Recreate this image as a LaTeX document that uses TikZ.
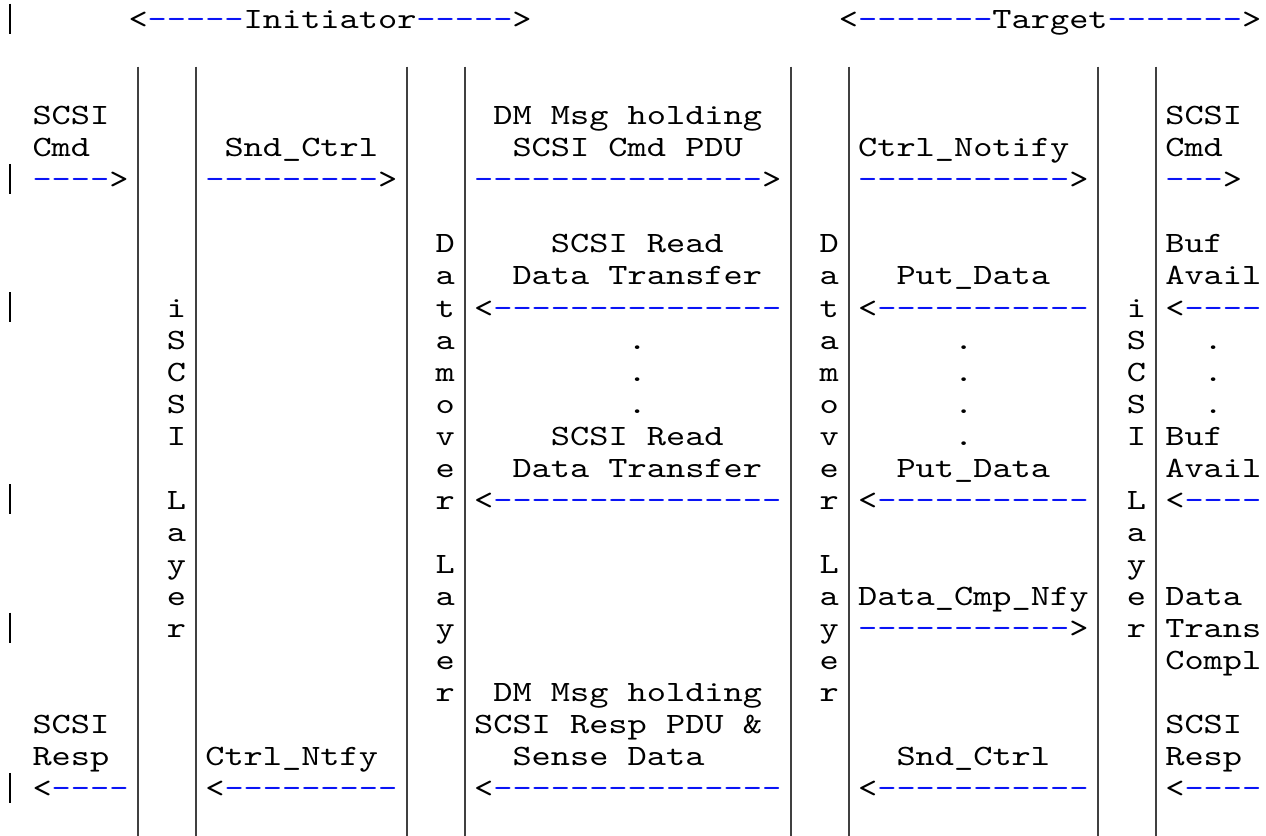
\documentclass[tikz,border=0pt]{standalone}
\usepackage{fontspec}
\setmonofont{lmmono10-regular.otf}[FakeStretch=1.241]
\usepackage{xcolor}
\definecolor{dashblue}{RGB}{10,20,245}
\newcommand{\dsh}[1]{\textcolor{dashblue}{#1}}

\begin{document}
\begin{tikzpicture}[
    x=7.2pt, y=-12.02pt,
    ascii/.style={anchor=base west, inner sep=0pt, outer sep=0pt, font=\ttfamily\fontsize{11.05pt}{12pt}\selectfont},
    layerline/.style={draw=black!75, line width=0.75pt},
    margbar/.style={draw=black, line width=1.1pt}
]
    \useasboundingbox (0.307,-0.891) rectangle (66.245,25.19);

    % margin bars and layer borders
    \foreach \r in {0,5,9,15,19,24}
        \draw[margbar] (0.828,\r-0.778) -- (0.828,\r+0.158);
    \foreach \c in {7,10,21,24,41,44,57,60}
        \draw[layerline] (\c+0.5,1.19) -- (\c+0.5,25.19);

    % headings
    \node[ascii] (initiator) at (7,0) {<\dsh{-----}Initiator\dsh{-----}>};
    \node[ascii] (target) at (44,0) {<\dsh{-------}Target\dsh{-------}>};

    % vertical layer names
    \foreach \ch [count=\k from 9] in {i,S,C,S,I,{},L,a,y,e,r} {
        \node[ascii] (iscsiI-\k) at (9,\k) {\ch};
        \node[ascii] (iscsiT-\k) at (59,\k) {\ch};
    }
    \foreach \ch [count=\k from 7] in {D,a,t,a,m,o,v,e,r,{},L,a,y,e,r} {
        \node[ascii] (dmI-\k) at (23,\k) {\ch};
        \node[ascii] (dmT-\k) at (43,\k) {\ch};
    }

    % command phase
    \node[ascii] (cmdI1) at (2,3) {SCSI};
    \node[ascii] (cmdI2) at (2,4) {Cmd};
    \node[ascii] (cmdI3) at (2,5) {\dsh{----}>};
    \node[ascii] (sndctrl1) at (12,4) {Snd\_Ctrl};
    \node[ascii] (sndctrl2) at (11,5) {\dsh{---------}>};
    \node[ascii] (dmcmd1) at (26,3) {DM Msg holding};
    \node[ascii] (dmcmd2) at (27,4) {SCSI Cmd PDU};
    \node[ascii] (dmcmd3) at (25,5) {\dsh{---------------}>};
    \node[ascii] (ctrlnot1) at (45,4) {Ctrl\_Notify};
    \node[ascii] (ctrlnot2) at (45,5) {\dsh{-----------}>};
    \node[ascii] (cmdT1) at (61,3) {SCSI};
    \node[ascii] (cmdT2) at (61,4) {Cmd};
    \node[ascii] (cmdT3) at (61,5) {\dsh{---}>};

    % data phase
    \node[ascii] (rd1a) at (29,7) {SCSI Read};
    \node[ascii] (rd1b) at (27,8) {Data Transfer};
    \node[ascii] (rd1c) at (25,9) {<\dsh{---------------}};
    \node[ascii] (put1a) at (47,8) {Put\_Data};
    \node[ascii] (put1b) at (45,9) {<\dsh{-----------}};
    \node[ascii] (buf1a) at (61,7) {Buf};
    \node[ascii] (buf1b) at (61,8) {Avail};
    \node[ascii] (buf1c) at (61,9) {<\dsh{----}};
    \foreach \r in {10,11,12} {
        \node[ascii] (rddot-\r) at (33,\r) {.};
        \node[ascii] (bufdot-\r) at (63,\r) {.};
    }
    \foreach \r in {10,11,12,13}
        \node[ascii] (putdot-\r) at (50,\r) {.};
    \node[ascii] (rd2a) at (29,13) {SCSI Read};
    \node[ascii] (rd2b) at (27,14) {Data Transfer};
    \node[ascii] (rd2c) at (25,15) {<\dsh{---------------}};
    \node[ascii] (put2a) at (47,14) {Put\_Data};
    \node[ascii] (put2b) at (45,15) {<\dsh{-----------}};
    \node[ascii] (buf2a) at (61,13) {Buf};
    \node[ascii] (buf2b) at (61,14) {Avail};
    \node[ascii] (buf2c) at (61,15) {<\dsh{----}};

    % completion
    \node[ascii] (cmpnfy1) at (45,18) {Data\_Cmp\_Nfy};
    \node[ascii] (cmpnfy2) at (45,19) {\dsh{-----------}>};
    \node[ascii] (compl1) at (61,18) {Data};
    \node[ascii] (compl2) at (61,19) {Trans};
    \node[ascii] (compl3) at (61,20) {Compl};

    % response phase
    \node[ascii] (rspI1) at (2,22) {SCSI};
    \node[ascii] (rspI2) at (2,23) {Resp};
    \node[ascii] (rspI3) at (2,24) {<\dsh{----}};
    \node[ascii] (ctrlntfy1) at (11,23) {Ctrl\_Ntfy};
    \node[ascii] (ctrlntfy2) at (11,24) {<\dsh{---------}};
    \node[ascii] (dmrsp1) at (26,21) {DM Msg holding};
    \node[ascii] (dmrsp2) at (25,22) {SCSI Resp PDU \&};
    \node[ascii] (dmrsp3) at (27,23) {Sense Data};
    \node[ascii] (dmrsp4) at (25,24) {<\dsh{---------------}};
    \node[ascii] (sndctrlT1) at (47,23) {Snd\_Ctrl};
    \node[ascii] (sndctrlT2) at (45,24) {<\dsh{-----------}};
    \node[ascii] (rspT1) at (61,22) {SCSI};
    \node[ascii] (rspT2) at (61,23) {Resp};
    \node[ascii] (rspT3) at (61,24) {<\dsh{----}};
\end{tikzpicture}
\end{document}
